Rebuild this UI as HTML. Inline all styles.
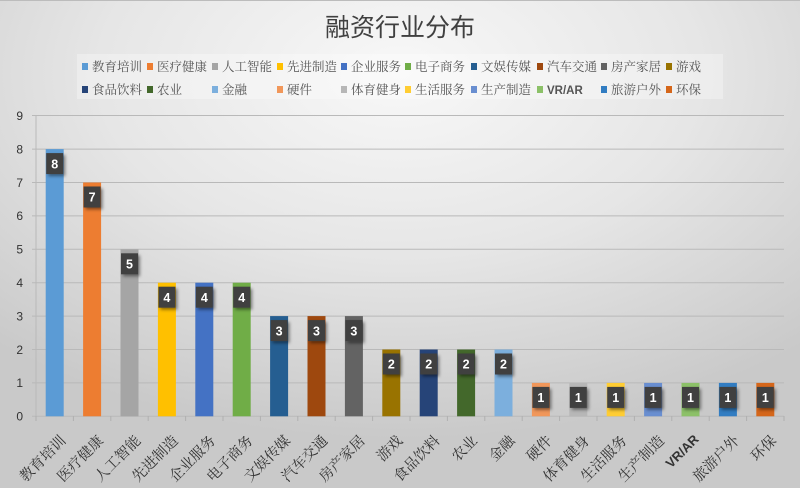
<!DOCTYPE html>
<html><head><meta charset="utf-8">
<style>
html,body{margin:0;padding:0;}
body{width:800px;height:488px;overflow:hidden;}
svg{display:block;}
.yl{font-family:"Liberation Sans",sans-serif;font-size:12px;fill:#333;text-anchor:end;}
.xl{font-family:"Liberation Serif","Noto Serif CJK SC",serif;font-size:14.5px;fill:#333;text-anchor:end;}
.lg{font-family:"Liberation Serif","Noto Serif CJK SC",serif;font-size:12.5px;fill:#555;}
.dl{font-family:"Liberation Sans",sans-serif;font-size:12.5px;font-weight:bold;fill:#fff;text-anchor:middle;}
</style></head>
<body>
<svg width="800" height="488" viewBox="0 0 800 488" xmlns="http://www.w3.org/2000/svg">
<defs>
<radialGradient id="bg" cx="50%" cy="15%" r="75%" fx="50%" fy="15%">
<stop offset="0" stop-color="#f8f8f8"/>
<stop offset="0.5" stop-color="#e6e6e6"/>
<stop offset="1" stop-color="#c9c9c9"/>
</radialGradient>
<filter id="sh" x="-50%" y="-50%" width="200%" height="200%">
<feDropShadow dx="2" dy="2" stdDeviation="1.5" flood-color="#000" flood-opacity="0.45"/>
</filter>
</defs>
<rect x="0" y="0" width="800" height="488" fill="url(#bg)"/>
<line x1="0" y1="0.5" x2="800" y2="0.5" stroke="#bcbcbc" stroke-width="1"/>

<text x="400" y="36" text-anchor="middle" font-family="'Liberation Sans','Noto Sans CJK SC',sans-serif" font-size="25" fill="#404040">融资行业分布</text>

<!-- legend -->
<rect x="77" y="54" width="646" height="45" fill="#ffffff" fill-opacity="0.3"/>
<g>
<rect x="82" y="63" width="6" height="7" fill="#5B9BD5"/><text class="lg" x="92" y="71">教育培训</text>
<rect x="147" y="63" width="6" height="7" fill="#ED7D31"/><text class="lg" x="157" y="71">医疗健康</text>
<rect x="212" y="63" width="6" height="7" fill="#A5A5A5"/><text class="lg" x="222" y="71">人工智能</text>
<rect x="277" y="63" width="6" height="7" fill="#FFC000"/><text class="lg" x="287" y="71">先进制造</text>
<rect x="341" y="63" width="6" height="7" fill="#4472C4"/><text class="lg" x="351" y="71">企业服务</text>
<rect x="405" y="63" width="6" height="7" fill="#70AD47"/><text class="lg" x="415" y="71">电子商务</text>
<rect x="471" y="63" width="6" height="7" fill="#255E91"/><text class="lg" x="481" y="71">文娱传媒</text>
<rect x="537" y="63" width="6" height="7" fill="#9E480E"/><text class="lg" x="547" y="71">汽车交通</text>
<rect x="601" y="63" width="6" height="7" fill="#636363"/><text class="lg" x="611" y="71">房产家居</text>
<rect x="666" y="63" width="6" height="7" fill="#997300"/><text class="lg" x="676" y="71">游戏</text>

<rect x="82" y="86" width="6" height="7" fill="#264478"/><text class="lg" x="92" y="94">食品饮料</text>
<rect x="147" y="86" width="6" height="7" fill="#43682B"/><text class="lg" x="157" y="94">农业</text>
<rect x="212" y="86" width="6" height="7" fill="#7CAFDD"/><text class="lg" x="222" y="94">金融</text>
<rect x="277" y="86" width="6" height="7" fill="#F1975A"/><text class="lg" x="287" y="94">硬件</text>
<rect x="341" y="86" width="6" height="7" fill="#B7B7B7"/><text class="lg" x="351" y="94">体育健身</text>
<rect x="405" y="86" width="6" height="7" fill="#FFCD33"/><text class="lg" x="415" y="94">生活服务</text>
<rect x="471" y="86" width="6" height="7" fill="#698ED0"/><text class="lg" x="481" y="94">生产制造</text>
<rect x="537" y="86" width="6" height="7" fill="#8CC168"/><text class="lg" x="547" y="94" style="font-family:'Liberation Sans',sans-serif;font-weight:bold;font-size:11.5px;">VR/AR</text>
<rect x="601" y="86" width="6" height="7" fill="#327DC2"/><text class="lg" x="611" y="94">旅游户外</text>
<rect x="666" y="86" width="6" height="7" fill="#D5661A"/><text class="lg" x="676" y="94">环保</text>
</g>

<!-- grid -->
<g stroke="#b9b9b9" stroke-width="1">
<line x1="32" y1="115.5" x2="784" y2="115.5"/>
<line x1="32" y1="149.1" x2="784" y2="149.1"/>
<line x1="32" y1="182.5" x2="784" y2="182.5"/>
<line x1="32" y1="215.9" x2="784" y2="215.9"/>
<line x1="32" y1="249.3" x2="784" y2="249.3"/>
<line x1="32" y1="282.7" x2="784" y2="282.7"/>
<line x1="32" y1="316.1" x2="784" y2="316.1"/>
<line x1="32" y1="349.5" x2="784" y2="349.5"/>
<line x1="32" y1="382.9" x2="784" y2="382.9"/>
<line x1="32" y1="416.3" x2="784" y2="416.3"/>
<line x1="36" y1="115.5" x2="36" y2="416.3"/>
</g>
<g stroke="#b0b0b0" stroke-width="1">
<line x1="36" y1="416" x2="36" y2="421"/><line x1="73.4" y1="416" x2="73.4" y2="421"/><line x1="110.8" y1="416" x2="110.8" y2="421"/><line x1="148.2" y1="416" x2="148.2" y2="421"/><line x1="185.6" y1="416" x2="185.6" y2="421"/><line x1="223" y1="416" x2="223" y2="421"/><line x1="260.4" y1="416" x2="260.4" y2="421"/><line x1="297.8" y1="416" x2="297.8" y2="421"/><line x1="335.2" y1="416" x2="335.2" y2="421"/><line x1="372.6" y1="416" x2="372.6" y2="421"/><line x1="410" y1="416" x2="410" y2="421"/><line x1="447.4" y1="416" x2="447.4" y2="421"/><line x1="484.8" y1="416" x2="484.8" y2="421"/><line x1="522.2" y1="416" x2="522.2" y2="421"/><line x1="559.6" y1="416" x2="559.6" y2="421"/><line x1="597" y1="416" x2="597" y2="421"/><line x1="634.4" y1="416" x2="634.4" y2="421"/><line x1="671.8" y1="416" x2="671.8" y2="421"/><line x1="709.2" y1="416" x2="709.2" y2="421"/><line x1="746.6" y1="416" x2="746.6" y2="421"/><line x1="784" y1="416" x2="784" y2="421"/>
</g>

<!-- y labels -->
<text class="yl" x="23" y="120">9</text>
<text class="yl" x="23" y="153.4">8</text>
<text class="yl" x="23" y="186.8">7</text>
<text class="yl" x="23" y="220.2">6</text>
<text class="yl" x="23" y="253.6">5</text>
<text class="yl" x="23" y="287">4</text>
<text class="yl" x="23" y="320.4">3</text>
<text class="yl" x="23" y="353.8">2</text>
<text class="yl" x="23" y="387.2">1</text>
<text class="yl" x="23" y="420.6">0</text>

<!-- bars -->
<g>
<rect x="45.7" y="149.1" width="18" height="267.2" fill="#5B9BD5"/>
<rect x="83.1" y="182.5" width="18" height="233.8" fill="#ED7D31"/>
<rect x="120.5" y="249.3" width="18" height="167" fill="#A5A5A5"/>
<rect x="157.9" y="282.7" width="18" height="133.6" fill="#FFC000"/>
<rect x="195.3" y="282.7" width="18" height="133.6" fill="#4472C4"/>
<rect x="232.7" y="282.7" width="18" height="133.6" fill="#70AD47"/>
<rect x="270.1" y="316.1" width="18" height="100.2" fill="#255E91"/>
<rect x="307.5" y="316.1" width="18" height="100.2" fill="#9E480E"/>
<rect x="344.9" y="316.1" width="18" height="100.2" fill="#636363"/>
<rect x="382.3" y="349.5" width="18" height="66.8" fill="#997300"/>
<rect x="419.7" y="349.5" width="18" height="66.8" fill="#264478"/>
<rect x="457.1" y="349.5" width="18" height="66.8" fill="#43682B"/>
<rect x="494.5" y="349.5" width="18" height="66.8" fill="#7CAFDD"/>
<rect x="531.9" y="382.9" width="18" height="33.4" fill="#F1975A"/>
<rect x="569.3" y="382.9" width="18" height="33.4" fill="#B7B7B7"/>
<rect x="606.7" y="382.9" width="18" height="33.4" fill="#FFCD33"/>
<rect x="644.1" y="382.9" width="18" height="33.4" fill="#698ED0"/>
<rect x="681.5" y="382.9" width="18" height="33.4" fill="#8CC168"/>
<rect x="718.9" y="382.9" width="18" height="33.4" fill="#327DC2"/>
<rect x="756.3" y="382.9" width="18" height="33.4" fill="#D5661A"/>
</g>

<!-- data labels -->
<g filter="url(#sh)" fill="#404040">
<rect x="46.2" y="153.1" width="17" height="21"/>
<rect x="83.6" y="186.5" width="17" height="21"/>
<rect x="121" y="253.3" width="17" height="21"/>
<rect x="158.4" y="286.7" width="17" height="21"/>
<rect x="195.8" y="286.7" width="17" height="21"/>
<rect x="233.2" y="286.7" width="17" height="21"/>
<rect x="270.6" y="320.1" width="17" height="21"/>
<rect x="308" y="320.1" width="17" height="21"/>
<rect x="345.4" y="320.1" width="17" height="21"/>
<rect x="382.8" y="353.5" width="17" height="21"/>
<rect x="420.2" y="353.5" width="17" height="21"/>
<rect x="457.6" y="353.5" width="17" height="21"/>
<rect x="495" y="353.5" width="17" height="21"/>
<rect x="532.4" y="386.9" width="17" height="21"/>
<rect x="569.8" y="386.9" width="17" height="21"/>
<rect x="607.2" y="386.9" width="17" height="21"/>
<rect x="644.6" y="386.9" width="17" height="21"/>
<rect x="682" y="386.9" width="17" height="21"/>
<rect x="719.4" y="386.9" width="17" height="21"/>
<rect x="756.8" y="386.9" width="17" height="21"/>
</g>
<g>
<text class="dl" x="54.7" y="168.3">8</text>
<text class="dl" x="92.1" y="201.7">7</text>
<text class="dl" x="129.5" y="268.5">5</text>
<text class="dl" x="166.9" y="301.9">4</text>
<text class="dl" x="204.3" y="301.9">4</text>
<text class="dl" x="241.7" y="301.9">4</text>
<text class="dl" x="279.1" y="335.3">3</text>
<text class="dl" x="316.5" y="335.3">3</text>
<text class="dl" x="353.9" y="335.3">3</text>
<text class="dl" x="391.3" y="368.7">2</text>
<text class="dl" x="428.7" y="368.7">2</text>
<text class="dl" x="466.1" y="368.7">2</text>
<text class="dl" x="503.5" y="368.7">2</text>
<text class="dl" x="540.9" y="402.1">1</text>
<text class="dl" x="578.3" y="402.1">1</text>
<text class="dl" x="615.7" y="402.1">1</text>
<text class="dl" x="653.1" y="402.1">1</text>
<text class="dl" x="690.5" y="402.1">1</text>
<text class="dl" x="727.9" y="402.1">1</text>
<text class="dl" x="765.3" y="402.1">1</text>
</g>

<!-- x labels -->
<g>
<text class="xl" transform="translate(58.2,433) rotate(-45)" x="0" y="12">教育培训</text>
<text class="xl" transform="translate(95.6,433) rotate(-45)" x="0" y="12">医疗健康</text>
<text class="xl" transform="translate(133,433) rotate(-45)" x="0" y="12">人工智能</text>
<text class="xl" transform="translate(170.4,433) rotate(-45)" x="0" y="12">先进制造</text>
<text class="xl" transform="translate(207.8,433) rotate(-45)" x="0" y="12">企业服务</text>
<text class="xl" transform="translate(245.2,433) rotate(-45)" x="0" y="12">电子商务</text>
<text class="xl" transform="translate(282.6,433) rotate(-45)" x="0" y="12">文娱传媒</text>
<text class="xl" transform="translate(320,433) rotate(-45)" x="0" y="12">汽车交通</text>
<text class="xl" transform="translate(357.4,433) rotate(-45)" x="0" y="12">房产家居</text>
<text class="xl" transform="translate(394.8,433) rotate(-45)" x="0" y="12">游戏</text>
<text class="xl" transform="translate(432.2,433) rotate(-45)" x="0" y="12">食品饮料</text>
<text class="xl" transform="translate(469.6,433) rotate(-45)" x="0" y="12">农业</text>
<text class="xl" transform="translate(507,433) rotate(-45)" x="0" y="12">金融</text>
<text class="xl" transform="translate(544.4,433) rotate(-45)" x="0" y="12">硬件</text>
<text class="xl" transform="translate(581.8,433) rotate(-45)" x="0" y="12">体育健身</text>
<text class="xl" transform="translate(619.2,433) rotate(-45)" x="0" y="12">生活服务</text>
<text class="xl" transform="translate(656.6,433) rotate(-45)" x="0" y="12">生产制造</text>
<text class="xl" transform="translate(692.5,433) rotate(-45)" x="0" y="10" style="font-family:'Liberation Sans',sans-serif;font-weight:bold;font-size:13px;">VR/AR</text>
<text class="xl" transform="translate(731.4,433) rotate(-45)" x="0" y="12">旅游户外</text>
<text class="xl" transform="translate(768.8,433) rotate(-45)" x="0" y="12">环保</text>
</g>
</svg>
</body></html>
